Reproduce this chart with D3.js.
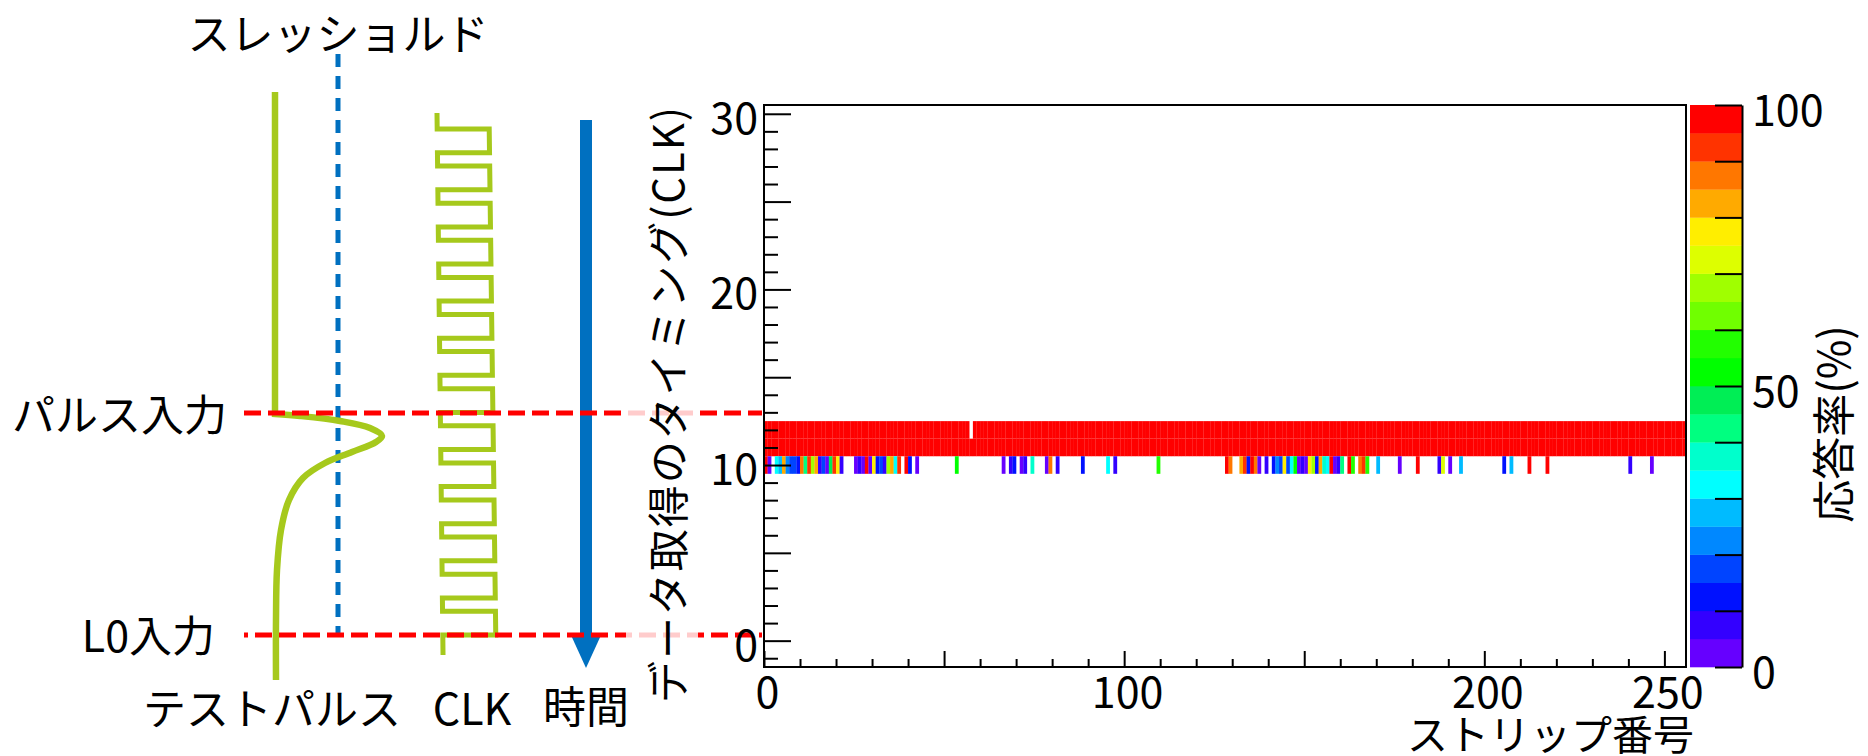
<!DOCTYPE html>
<html>
<head>
<meta charset="utf-8">
<script src="https://cdn.jsdelivr.net/npm/d3@7"></script>
<style>
  html, body { margin: 0; padding: 0; background: #fff; }
  svg text { font-family: "Noto Sans CJK JP", "Noto Sans", sans-serif; font-weight: 400; fill: #000; }
</style>
</head>
<body>
<svg id="chart" width="1868" height="756"></svg>
<script>
// ////////////////////////////////////////////////////////////////////////////
// DATA
// ////////////////////////////////////////////////////////////////////////////
const stripCount = 256;
const fullTimings = [11, 12];        // timing bins where the strips answered 100 %
const emptyCells = [[57, 12]];       // [strip, timing] with no answer at all

// timing bin 10 : only some strips answered
const row10Timing = 10;
const row10Strips = [0, 1, 3, 4, 5, 6, 7, 8, 9, 10, 11, 12, 13, 14, 15, 16, 17, 18, 19, 20, 21,
  25, 26, 27, 28, 29, 30, 31, 32, 33, 34, 35, 36, 37, 39, 40, 42,
  53, 66, 68, 69, 71, 72, 74, 78, 79, 81, 88, 95, 97, 109,
  128, 129, 132, 133, 134, 135, 136, 137, 139, 141, 142, 143, 144, 145, 146, 147, 148, 149, 150,
  151, 152, 153, 154, 155, 156, 157, 158, 159, 160, 162, 163, 165, 166, 167, 170,
  176, 181, 187, 188, 190, 193, 205, 207, 212, 217, 240, 246];
const row10Rates = [97, 2, 32, 27, 82, 22, 17, 17, 12, 87, 42, 92, 67, 82, 7, 17, 2, 47, 92, 77, 7,
  2, 7, 2, 97, 2, 77, 12, 17, 7, 67, 82, 32, 92, 97, 12, 2,
  52, 2, 7, 12, 2, 7, 37, 2, 87, 7, 12, 32, 7, 57,
  97, 87, 82, 92, 12, 97, 87, 2, 7, 12, 22, 17, 77, 17, 32, 52, 2, 7, 2,
  77, 67, 12, 82, 37, 32, 97, 2, 7, 42, 97, 57, 87, 92, 57, 27,
  2, 97, 7, 72, 2, 27, 12, 27, 97, 97, 7, 2];

// colour palette of the z axis, from 0 % to 100 %
const paletteColors = ['#6600ff', '#3300ff', '#0011ff', '#0044ff', '#0088ff', '#00bbff', '#00ffff',
  '#00ffcc', '#00ff80', '#00ee55', '#00ff00', '#22ff00', '#70ff00', '#a0ff00', '#ddff00',
  '#ffee00', '#ffaa00', '#ff7700', '#ff3300', '#ff0000'];

const yTickLabels = [0, 10, 20, 30];
const xTickLabels = [0, 100, 200, 250];
const zTickLabels = [0, 50, 100];

const xTitle = 'ストリップ番号';
const yTitle = 'データ取得のタイミング(CLK)';
const zTitle = '応答率(%)';

// ////////////////////////////////////////////////////////////////////////////
// SET UP
// ////////////////////////////////////////////////////////////////////////////
const svg = d3.select('#chart');
const FONT = 43;
const GREEN = '#a6c91c';
const BLUE = '#0070c0';
const RED = '#ff0000';

const x = d3.scaleLinear().domain([0, stripCount]).range([764, 1686]);
const y = d3.scaleLinear().domain([-1.5, 30.5]).range([667, 105]);
const z = d3.scaleLinear().domain([0, 100]).range([667, 105]);
const color = d3.scaleQuantize().domain([0, 100]).range(paletteColors);

// ////////////////////////////////////////////////////////////////////////////
// TIMING DIAGRAM (left side)
// ////////////////////////////////////////////////////////////////////////////
const diagram = svg.append('g');

// threshold
diagram.append('line')
  .attr('x1', 338).attr('x2', 338).attr('y1', 54).attr('y2', 634)
  .attr('stroke', BLUE).attr('stroke-width', 5).attr('stroke-dasharray', '13,9');

// test pulse
const pulse = [[275, 414], [300, 416], [340, 421], [370, 428], [382, 436], [376, 442],
  [352, 452], [325, 463], [303, 478], [289, 500], [281, 530], [277, 570], [276, 620], [276, 680]];
diagram.append('path')
  .attr('d', `M275,92V414` + d3.line().curve(d3.curveCatmullRom)(pulse).replace(/^M[^C]*/, ''))
  .attr('fill', 'none').attr('stroke', GREEN).attr('stroke-width', 6.5);

// clock: square wave, slightly leaning
const xl = yy => 437 + (yy - 113) * 6 / 540;
const xr = yy => 489 + (yy - 113) * 7 / 540;
let clk = `M${xl(113)},113`;
const period = 37.1;
for (let k = 0; k < 14; k++) {
  const yTop = 129 + k * period;
  const yBot = yTop + 23.7;
  clk += `L${xl(yTop)},${yTop}L${xr(yTop)},${yTop}L${xr(yBot)},${yBot}L${xl(yBot)},${yBot}`;
}
clk += `L${xl(655)},655`;
diagram.append('path')
  .attr('d', clk).attr('fill', 'none').attr('stroke', GREEN).attr('stroke-width', 5);

// time arrow
diagram.append('line')
  .attr('x1', 586).attr('x2', 586).attr('y1', 120).attr('y2', 640)
  .attr('stroke', BLUE).attr('stroke-width', 12);
diagram.append('path')
  .attr('d', 'M570,633L602,633L586,668Z').attr('fill', BLUE);

// pulse input and L0 input
diagram.append('line')
  .attr('x1', 244).attr('x2', 762).attr('y1', 413).attr('y2', 413)
  .attr('stroke', RED).attr('stroke-width', 5).attr('stroke-dasharray', '17,7');
diagram.append('line')
  .attr('x1', 244).attr('x2', 762).attr('y1', 635).attr('y2', 635)
  .attr('stroke', RED).attr('stroke-width', 5).attr('stroke-dasharray', '17,7')
  .attr('stroke-dashoffset', 13);

// faded band behind the y title
diagram.append('rect')
  .attr('x', 626).attr('y', 390).attr('width', 72).attr('height', 270)
  .attr('fill', '#fff').attr('opacity', 0.8);

const diagramLabels = [
  { text: 'スレッショルド', x: 338, y: 31, anchor: 'middle' },
  { text: 'パルス入力', x: 227, y: 412, anchor: 'end' },
  { text: 'L0入力', x: 215, y: 633, anchor: 'end' },
  { text: 'テストパルス', x: 272, y: 706, anchor: 'middle' },
  { text: 'CLK', x: 472, y: 706, anchor: 'middle' },
  { text: '時間', x: 586, y: 704, anchor: 'middle' },
];
diagram.selectAll('text.label')
  .data(diagramLabels)
  .enter()
  .append('text')
    .attr('class', 'label')
    .attr('x', d => d.x)
    .attr('y', d => d.y)
    .attr('text-anchor', d => d.anchor)
    .attr('dominant-baseline', 'central')
    .style('font-size', `${FONT}px`)
    .text(d => d.text);

// ////////////////////////////////////////////////////////////////////////////
// 2D HISTOGRAM
// ////////////////////////////////////////////////////////////////////////////
const cells = [];
fullTimings.forEach((t) => {
  d3.range(stripCount).forEach((s) => {
    if (!emptyCells.some(([es, et]) => es === s && et === t)) cells.push({ strip: s, timing: t, rate: 100 });
  });
});
row10Strips.forEach((s, i) => cells.push({ strip: s, timing: row10Timing, rate: row10Rates[i] }));

svg.append('g')
  .selectAll('rect')
  .data(cells)
  .enter()
  .append('rect')
    .attr('x', d => x(d.strip))
    .attr('y', d => y(d.timing + 0.5))
    .attr('width', d => x(d.strip + 1) - x(d.strip) + 0.2)
    .attr('height', d => y(d.timing - 0.5) - y(d.timing + 0.5))
    .attr('fill', d => color(d.rate));

// frame
svg.append('rect')
  .attr('x', x(0)).attr('y', y(30.5))
  .attr('width', x(stripCount) - x(0)).attr('height', y(-1.5) - y(30.5))
  .attr('fill', 'none').attr('stroke', '#000').attr('stroke-width', 2);

function styleAxis(g) {
  g.select('.domain').remove();
  g.selectAll('.tick line').attr('stroke', '#000').attr('stroke-width', 2);
}

// y ticks, inside the frame
const yAll = d3.range(-1, 31);
svg.append('g').attr('transform', `translate(${x(0)},0)`)
  .call(d3.axisRight(y).tickValues(yAll.filter(v => v % 5 !== 0)).tickSize(14).tickFormat(''))
  .call(styleAxis);
svg.append('g').attr('transform', `translate(${x(0)},0)`)
  .call(d3.axisRight(y).tickValues(yAll.filter(v => v % 5 === 0)).tickSize(27).tickFormat(''))
  .call(styleAxis);
svg.append('g').attr('transform', `translate(${x(0) - 6},0)`)
  .call(d3.axisLeft(y).tickValues(yTickLabels).tickSize(0).tickPadding(0))
  .call(g => g.select('.domain').remove())
  .selectAll('text')
    .attr('font-family', null).attr('font-size', null)
    .attr('dy', 19.5)
    .style('font-size', `${FONT}px`);

// x ticks, inside the frame
const xAll = d3.range(0, stripCount + 1, 10);
svg.append('g').attr('transform', `translate(0,${y(-1.5)})`)
  .call(d3.axisTop(x).tickValues(xAll.filter(v => v % 50 !== 0)).tickSize(8).tickFormat(''))
  .call(styleAxis);
svg.append('g').attr('transform', `translate(0,${y(-1.5)})`)
  .call(d3.axisTop(x).tickValues(xAll.filter(v => v % 50 === 0)).tickSize(16).tickFormat(''))
  .call(styleAxis);
svg.append('g').attr('transform', `translate(3,${y(-1.5)})`)
  .call(d3.axisBottom(x).tickValues(xTickLabels).tickSize(0))
  .call(g => g.select('.domain').remove())
  .selectAll('text')
    .attr('font-family', null).attr('font-size', null)
    .attr('y', 41).attr('dy', 0)
    .style('font-size', `${FONT}px`);

// axis titles
svg.append('text')
  .attr('x', 1694).attr('y', 732)
  .attr('text-anchor', 'end').attr('dominant-baseline', 'central')
  .style('font-size', '41px')
  .text(xTitle);
svg.append('text')
  .attr('transform', 'translate(665,107) rotate(-90)')
  .attr('text-anchor', 'end').attr('dominant-baseline', 'central')
  .attr('textLength', 596).attr('lengthAdjust', 'spacing')
  .style('font-size', '42px')
  .text(yTitle);

// ////////////////////////////////////////////////////////////////////////////
// COLOUR BAR
// ////////////////////////////////////////////////////////////////////////////
const zLeft = 1690;
const zRight = 1742;
const step = 100 / paletteColors.length;
svg.append('g')
  .selectAll('rect')
  .data(paletteColors)
  .enter()
  .append('rect')
    .attr('x', zLeft)
    .attr('y', (d, i) => z((i + 1) * step))
    .attr('width', zRight - zLeft)
    .attr('height', (d, i) => z(i * step) - z((i + 1) * step) + 0.3)
    .attr('fill', d => d);

svg.append('g').attr('transform', `translate(${zRight},0)`)
  .call(d3.axisLeft(z).tickValues(d3.range(0, 101, 10)).tickSize(27).tickSizeOuter(0).tickFormat(''))
  .call((g) => {
    g.select('.domain').attr('stroke', '#000').attr('stroke-width', 2);
    g.selectAll('.tick line').attr('stroke', '#000').attr('stroke-width', 2);
  });
svg.append('g').attr('transform', `translate(${zRight + 10},0)`)
  .call(d3.axisRight(z).tickValues(zTickLabels).tickSize(0).tickPadding(0))
  .call(g => g.select('.domain').remove())
  .selectAll('text')
    .attr('font-family', null).attr('font-size', null)
    .attr('dy', 20)
    .style('font-size', `${FONT}px`);

svg.append('text')
  .attr('transform', 'translate(1831,424) rotate(-90)')
  .attr('text-anchor', 'middle').attr('dominant-baseline', 'central')
  .style('font-size', '43px')
  .text(zTitle);
</script>
</body>
</html>
